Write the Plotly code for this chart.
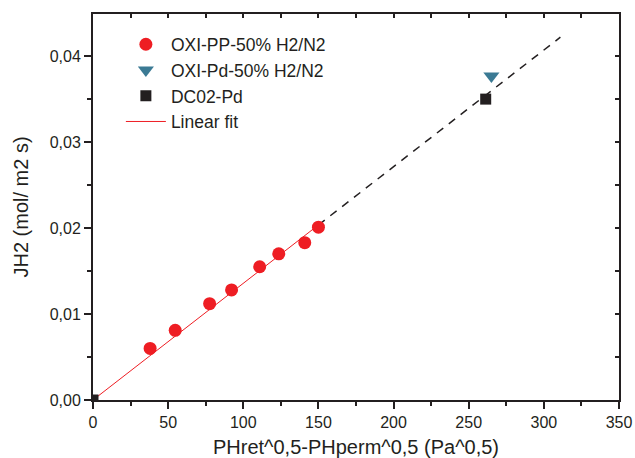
import plotly.graph_objects as go

# Data
pp_x = [38, 54.7, 77.6, 92.2, 110.9, 123.6, 140.9, 150]
pp_y = [0.0060, 0.0081, 0.0112, 0.0128, 0.0155, 0.0170, 0.0183, 0.0201]
pd_x = [265.1]
pd_y = [0.0377]
dc_x = [0, 261.3]
dc_y = [0, 0.0350]
fit_x = [0, 150]
fit_y = [0, 0.02036]
ext_x = [150, 311]
ext_y = [0.02036, 0.0422]

x_ticks = [0, 50, 100, 150, 200, 250, 300, 350]
y_ticks = [0.00, 0.01, 0.02, 0.03, 0.04]

RED = "#EE1D23"
BLUE = "#3B7A94"
BLACK = "#231F20"
FONT = "Liberation Sans, Arial, sans-serif"

fig = go.Figure()
fig.add_trace(go.Scatter(x=ext_x, y=ext_y, mode="lines", showlegend=False,
                         line=dict(color=BLACK, width=1.5, dash="8px,7px")))
fig.add_trace(go.Scatter(x=fit_x, y=fit_y, mode="lines", name="Linear fit",
                         line=dict(color=RED, width=1), legendrank=4))
fig.add_trace(go.Scatter(x=pp_x, y=pp_y, mode="markers", name="OXI-PP-50% H2/N2",
                         marker=dict(symbol="circle", size=13, color=RED), legendrank=1))
fig.add_trace(go.Scatter(x=pd_x, y=pd_y, mode="markers", name="OXI-Pd-50% H2/N2",
                         marker=dict(symbol="triangle-down", size=14, color=BLUE), legendrank=2))
fig.add_trace(go.Scatter(x=dc_x, y=dc_y, mode="markers", name="DC02-Pd",
                         marker=dict(symbol="square", size=11, color=BLACK), legendrank=3))

# overlay axes for inward ticks on top/right
fig.add_trace(go.Scatter(x=[None], y=[None], xaxis="x2", yaxis="y2", showlegend=False))

axis_common = dict(showgrid=False, zeroline=False, showline=True, linecolor=BLACK,
                   linewidth=2, ticklen=7, tickwidth=1.5, tickcolor=BLACK, automargin=False,
                   tickfont=dict(size=16, color=BLACK, family=FONT))

fig.update_layout(
    width=635, height=458,
    margin=dict(l=93, r=16, t=14, b=58),
    paper_bgcolor="white", plot_bgcolor="white",
    separators=", ",
    font=dict(family=FONT, color=BLACK),
    xaxis=dict(range=[0, 350], tickvals=x_ticks, ticks="outside",
               minor=dict(dtick=25, tick0=0, ticks="outside", ticklen=4, tickwidth=1.5, tickcolor=BLACK),
               title=dict(text="PHret^0,5-PHperm^0,5 (Pa^0,5)", font=dict(size=20, color=BLACK), standoff=14),
               **axis_common),
    yaxis=dict(range=[0, 0.0449], tickvals=y_ticks, tickformat=".2f", ticks="outside",
               minor=dict(dtick=0.005, tick0=0, ticks="outside", ticklen=4, tickwidth=1.5, tickcolor=BLACK),
               title=dict(text="JH2 (mol/ m2 s)", font=dict(size=20, color=BLACK), standoff=16),
               **axis_common),
    xaxis2=dict(overlaying="x", side="top", range=[0, 350], dtick=25, tick0=0,
                ticks="inside", ticklen=4, tickwidth=1.5, tickcolor=BLACK, automargin=False,
                showticklabels=False, showgrid=False, zeroline=False,
                showline=True, linecolor=BLACK, linewidth=2),
    yaxis2=dict(overlaying="y", side="right", anchor="x2", range=[0, 0.0449], dtick=0.005, tick0=0,
                ticks="inside", ticklen=4, tickwidth=1.5, tickcolor=BLACK, automargin=False,
                showticklabels=False, showgrid=False, zeroline=False,
                showline=True, linecolor=BLACK, linewidth=2),
    legend=dict(x=0.053, y=0.968, xanchor="left", yanchor="top",
                bgcolor="rgba(0,0,0,0)", font=dict(size=17.5, color=BLACK, family=FONT),
                tracegroupgap=0, itemwidth=40),
)

fig.write_html("out.html")
